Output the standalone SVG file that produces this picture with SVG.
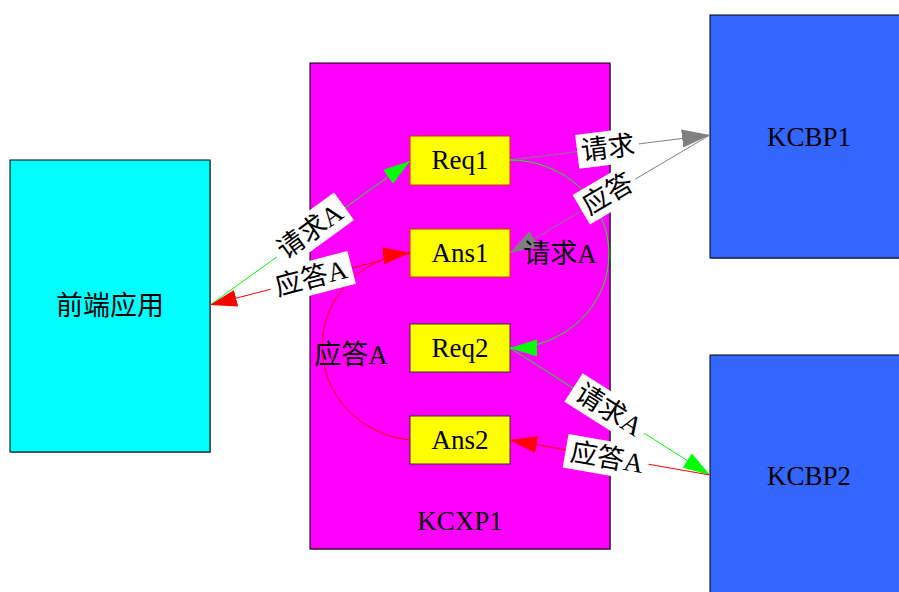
<svg xmlns="http://www.w3.org/2000/svg" width="899" height="592" viewBox="0 0 899 592">
<defs>
<marker id="ag" markerUnits="userSpaceOnUse" markerWidth="30" markerHeight="20" refX="27" refY="8.5" orient="auto"><path d="M0,0 L27,8.5 L0,17 z" fill="#00ff00"/></marker>
<marker id="ar" markerUnits="userSpaceOnUse" markerWidth="30" markerHeight="20" refX="27" refY="8.5" orient="auto"><path d="M0,0 L27,8.5 L0,17 z" fill="#ff0000"/></marker>
<marker id="ay" markerUnits="userSpaceOnUse" markerWidth="30" markerHeight="20" refX="28" refY="9" orient="auto"><path d="M0,0 L28,9 L0,18 z" fill="#808080"/></marker>
</defs>
<style>
.box{stroke:#000;stroke-width:1}
.sh{fill:#999}
.t{font-family:"Liberation Serif","Noto Sans CJK SC",serif;font-size:27px;fill:#000;text-anchor:middle;dominant-baseline:central}
.lb{fill:#fff}
.g{stroke:#00ff00;stroke-width:1;fill:none}
.r{stroke:#ff0000;stroke-width:1;fill:none}
.y{stroke:#808080;stroke-width:1;fill:none}
</style>
<g id="frontend">
<rect class="sh" x="11" y="161" width="200" height="292"/>
<rect class="box" x="10" y="160" width="200" height="292" fill="#00ffff"/>
<text class="t" x="110" y="306">前端应用</text>
</g>
<g id="kcxp1">
<rect class="sh" x="311" y="64" width="300" height="486"/>
<rect class="box" x="310" y="63" width="300" height="486" fill="#ff00ff"/>
<text class="t" x="460" y="521">KCXP1</text>
</g>
<g id="kcbp1">
<rect class="sh" x="711" y="16" width="200" height="243"/>
<rect class="box" x="710" y="15" width="200" height="243" fill="#3366ff"/>
<text class="t" x="809" y="137">KCBP1</text>
</g>
<g id="kcbp2">
<rect class="box" x="710" y="355" width="200" height="250" fill="#3366ff"/>
<text class="t" x="809" y="476">KCBP2</text>
</g>
<g id="req1">
<rect x="410" y="136" width="100" height="49" fill="#ffff00" stroke="#cc3300"/>
<text class="t" x="460" y="160">Req1</text>
</g>
<g id="ans1">
<rect x="410" y="229" width="100" height="48" fill="#ffff00" stroke="#cc3300"/>
<text class="t" x="460" y="253">Ans1</text>
</g>
<g id="req2">
<rect x="410" y="324" width="100" height="48" fill="#ffff00" stroke="#333"/>
<text class="t" x="460" y="348">Req2</text>
</g>
<g id="ans2">
<rect x="410" y="416" width="100" height="48" fill="#ffff00" stroke="#333"/>
<text class="t" x="460" y="440">Ans2</text>
</g>
<g id="connectors">
<path class="g" d="M210,305 L410,161" marker-end="url(#ag)"/>
<path class="r" d="M410,253 L210,305" marker-end="url(#ar)"/>
<path class="y" d="M510,160 L710,135" marker-end="url(#ay)"/>
<path class="y" d="M710,135 L510,253" marker-end="url(#ay)"/>
<path class="g" d="M510,160 A99 94 0 0 1 510,348" marker-end="url(#ag)"/>
<path class="g" d="M510,348 L710,475" marker-end="url(#ag)"/>
<path class="r" d="M710,475 L510,440" marker-end="url(#ar)"/>
<path class="r" d="M410,440 A98 94 0 0 1 410,253" marker-end="url(#ar)"/>
<g transform="translate(310,231) rotate(-36)"><rect class="lb" x="-42" y="-17" width="84" height="34"/><text class="t" x="0" y="0">请求A</text></g>
<g transform="translate(311,278) rotate(-14.6)"><rect class="lb" x="-42" y="-17" width="84" height="34"/><text class="t" x="0" y="0">应答A</text></g>
<g transform="translate(608,148) rotate(-7)"><rect class="lb" x="-31" y="-17" width="62" height="34"/><text class="t" x="0" y="0">请求</text></g>
<g transform="translate(608,194) rotate(-30.5)"><rect class="lb" x="-31" y="-17" width="62" height="34"/><text class="t" x="0" y="0">应答</text></g>
<g transform="translate(609,410) rotate(32.4)"><rect class="lb" x="-42" y="-17" width="84" height="34"/><text class="t" x="0" y="0">请求A</text></g>
<g transform="translate(607,458) rotate(9.9)"><rect class="lb" x="-42" y="-17" width="84" height="34"/><text class="t" x="0" y="0">应答A</text></g>
<text class="t" x="560" y="254">请求A</text>
<text class="t" x="351" y="355">应答A</text>
</g>
</svg>
